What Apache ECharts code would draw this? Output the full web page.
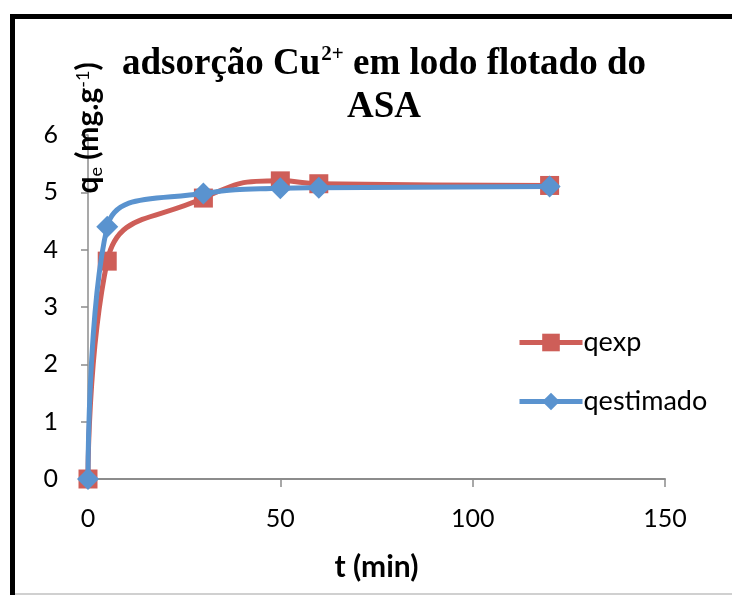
<!DOCTYPE html>
<html>
<head>
<meta charset="utf-8">
<script src="https://cdn.jsdelivr.net/npm/echarts@6/dist/echarts.min.js"></script>
<style>
html,body{margin:0;padding:0;background:#fff;overflow:hidden;}
#chart{width:732px;height:595px;}
</style>
</head>
<body>
<div id="chart"></div>
<script>
// ---- data ----
const timeMin = [0, 5, 30, 50, 60, 120];
const qexp = [0, 3.8, 4.9, 5.2, 5.15, 5.12];
const qestimado = [0, 4.4, 4.98, 5.07, 5.08, 5.1];
const seriesNames = ['qexp', 'qestimado'];
const xTicks = [0, 50, 100, 150];
const yTicks = [0, 1, 2, 3, 4, 5, 6];

const pairs = (xs, ys) => xs.map((x, i) => [x, ys[i]]);

const RED = '#CE5E58';
const BLUE = '#5A93CF';
const AXIS = '#8C8C8C';
const SANS = 'Lato, "Open Sans", sans-serif';
const SERIF = '"Liberation Serif", "Times New Roman", serif';

const chart = echarts.init(document.getElementById('chart'), null, {renderer: 'canvas'});
chart.setOption({
  backgroundColor: '#ffffff',
  animation: false,
  title: {
    text: '{b|adsorção Cu}{sup|2+}{b| em lodo flotado do}\n{b|ASA}',
    left: 379,
    textAlign: 'center',
    top: 38,
    textStyle: {
      rich: {
        b: {fontFamily: SERIF, fontWeight: 'bold', fontSize: 37, lineHeight: 43, color: '#000'},
        sup: {fontFamily: SERIF, fontWeight: 'bold', fontSize: 21, lineHeight: 21, verticalAlign: 'top', color: '#000', padding: [1, 0, 0, 1]}
      }
    }
  },
  legend: {
    orient: 'vertical',
    left: 512,
    top: 324,
    itemWidth: 63,
    itemHeight: 22,
    itemGap: 32,
    data: seriesNames,
    lineStyle: {width: 5},
    textStyle: {fontFamily: SANS, fontSize: 27, color: '#000', padding: [0, 0, 0, -4]}
  },
  grid: {left: 88, right: 67, top: 135, bottom: 116, containLabel: false},
  xAxis: {
    type: 'value',
    min: xTicks[0],
    max: xTicks[xTicks.length - 1],
    interval: 50,
    name: 't (min)',
    nameLocation: 'middle',
    nameGap: 73,
    nameTextStyle: {fontFamily: SANS, fontWeight: 'bold', fontSize: 30, color: '#000'},
    axisLine: {show: true, lineStyle: {color: AXIS, width: 2}},
    axisTick: {show: true, length: 8, lineStyle: {color: AXIS, width: 1.5}},
    axisLabel: {fontFamily: SANS, fontSize: 25, color: '#000', margin: 27},
    splitLine: {show: false}
  },
  yAxis: {
    type: 'value',
    min: yTicks[0],
    max: yTicks[yTicks.length - 1],
    interval: 1,
    axisLine: {show: true, lineStyle: {color: AXIS, width: 1.5}},
    axisTick: {show: true, length: 7, lineStyle: {color: AXIS, width: 1.5}},
    axisLabel: {fontFamily: SANS, fontSize: 25, color: '#000', margin: 30},
    splitLine: {show: false}
  },
  graphic: [
    {
      type: 'polyline', silent: true, z: 100,
      shape: {points: [[12.5, 600], [12.5, 16.5], [740, 16.5]]},
      style: {fill: 'none', stroke: '#000', lineWidth: 5, lineJoin: 'miter'}
    },
    {
      type: 'line', silent: true, z: 100,
      shape: {x1: 15, y1: 594, x2: 732, y2: 594},
      style: {stroke: '#d0d0d0', lineWidth: 2}
    },
    {
      type: 'text', silent: true, z: 50,
      x: 88, y: 128, rotation: Math.PI / 2,
      style: {
        text: '{q|q}{sub|e}{q| (mg.g}{sup|-1}{q|)}',
        align: 'center', verticalAlign: 'middle',
        rich: {
          q: {fontFamily: SANS, fontWeight: 'bold', fontSize: 30, fill: '#000', lineHeight: 34},
          sub: {fontFamily: SANS, fontWeight: 'normal', fontSize: 18, fill: '#000', verticalAlign: 'bottom', lineHeight: 18},
          sup: {fontFamily: SANS, fontWeight: 'normal', fontSize: 18, fill: '#000', verticalAlign: 'top', lineHeight: 18, padding: [3, 0, 0, 0]}
        }
      }
    }
  ],
  series: [
    {
      name: seriesNames[0],
      type: 'line',
      data: pairs(timeMin, qexp),
      smooth: 0.5,
      symbol: 'rect',
      symbolSize: 19,
      itemStyle: {color: RED},
      lineStyle: {color: RED, width: 5},
      z: 2
    },
    {
      name: seriesNames[1],
      type: 'line',
      data: pairs(timeMin, qestimado),
      smooth: 0.5,
      symbol: 'diamond',
      symbolSize: 22,
      itemStyle: {color: BLUE},
      lineStyle: {color: BLUE, width: 5},
      z: 3
    }
  ]
});
</script>
</body>
</html>
